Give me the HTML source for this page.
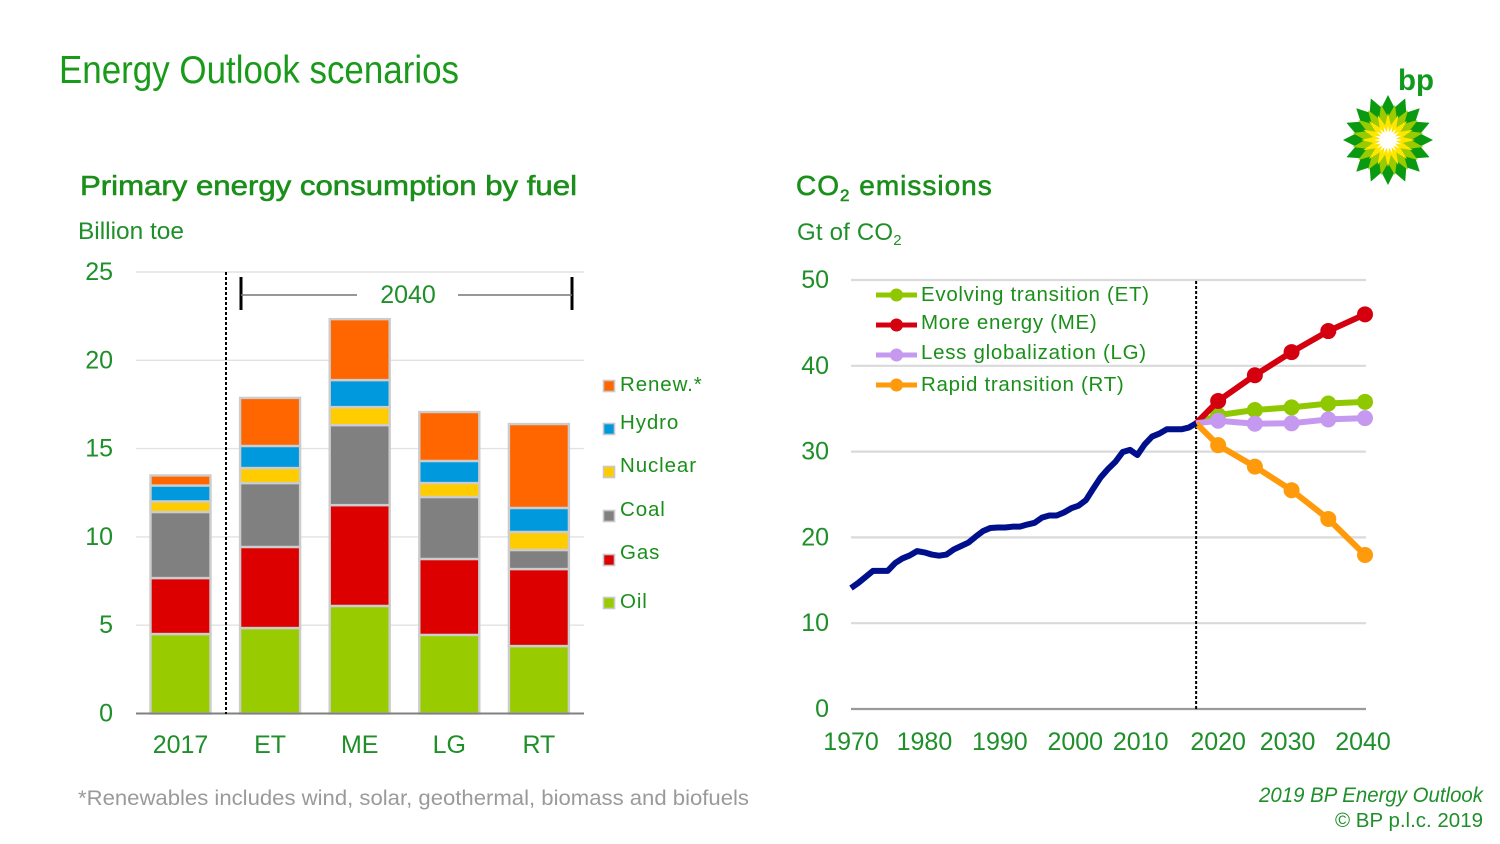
<!DOCTYPE html>
<html lang="en">
<head>
<meta charset="utf-8">
<title>Energy Outlook scenarios</title>
<style>
html,body{margin:0;padding:0;background:#fff;width:1500px;height:844px;overflow:hidden}
svg{display:block}
text{font-family:"Liberation Sans",sans-serif;fill:#1f8f2a}
</style>
</head>
<body>
<svg id="slide" width="1500" height="844" viewBox="0 0 1500 844" xmlns="http://www.w3.org/2000/svg">
  <text x="59" y="83" font-size="39" textLength="400" lengthAdjust="spacingAndGlyphs" style="fill:#1a9a1a">Energy Outlook scenarios</text>
  <text x="80" y="195" font-size="28" textLength="497" lengthAdjust="spacingAndGlyphs" style="fill:#1a8f1a;stroke:#1a8f1a;stroke-width:0.6">Primary energy consumption by fuel</text>
  <text x="78" y="239" font-size="24" textLength="106" lengthAdjust="spacingAndGlyphs">Billion toe</text>
  <text x="796" y="195" font-size="28" letter-spacing="1" style="fill:#1a8f1a;stroke:#1a8f1a;stroke-width:0.6">CO<tspan font-size="17" dy="6">2</tspan><tspan dy="-6"> emissions</tspan></text>
  <text x="797" y="240" font-size="24" letter-spacing="0.2">Gt of CO<tspan font-size="15" dy="5">2</tspan></text>
  <g id="left-chart"></g>
  <g id="right-chart"></g>
  <g id="bp-logo">
    <text x="1398" y="90" font-size="30" font-weight="bold" textLength="36" lengthAdjust="spacingAndGlyphs" style="fill:#0f9a1e">bp</text>
  </g>
  <text x="78" y="805" font-size="21.5" textLength="671" lengthAdjust="spacingAndGlyphs" style="fill:#9a9a9a">*Renewables includes wind, solar, geothermal, biomass and biofuels</text>
  <text x="1483" y="802" font-size="21" font-style="italic" text-anchor="end" textLength="224" lengthAdjust="spacingAndGlyphs">2019 BP Energy Outlook</text>
  <text x="1483" y="827" font-size="20" text-anchor="end" textLength="148" lengthAdjust="spacingAndGlyphs">© BP p.l.c. 2019</text>
</svg>
<script>
// ---------- stacked bar chart data (billion toe) ----------
const barCategories = ['2017', 'ET', 'ME', 'LG', 'RT'];
const fuelNames = ['Oil', 'Gas', 'Coal', 'Nuclear', 'Hydro', 'Renew.*'];
const oilValues = [4.5, 4.84, 6.09, 4.45, 3.82];
const gasValues = [3.17, 4.59, 5.71, 4.3, 4.36];
const coalValues = [3.74, 3.62, 4.53, 3.51, 1.08];
const nuclearValues = [0.6, 0.85, 1.02, 0.79, 1.02];
const hydroValues = [0.9, 1.25, 1.53, 1.25, 1.36];
const renewValues = [0.57, 2.72, 3.45, 2.77, 4.75];
const barTicks = [0, 5, 10, 15, 20, 25];

// ---------- line chart data (Gt of CO2) ----------
const historyYears = [1970,1971,1972,1973,1974,1975,1976,1977,1978,1979,1980,1981,1982,1983,1984,1985,1986,1987,1988,1989,1990,1991,1992,1993,1994,1995,1996,1997,1998,1999,2000,2001,2002,2003,2004,2005,2006,2007,2008,2009,2010,2011,2012,2013,2014,2015,2016,2017];
const historyValues = [14.1,14.7,15.4,16.1,16.1,16.1,17.0,17.55,17.9,18.4,18.25,18.0,17.87,18.0,18.6,19.0,19.4,20.1,20.75,21.1,21.15,21.15,21.25,21.25,21.5,21.7,22.3,22.55,22.55,22.9,23.4,23.7,24.35,25.7,27.0,27.97,28.8,29.95,30.2,29.6,30.85,31.75,32.1,32.6,32.6,32.6,32.8,33.3];
const scenarioYears = [2017, 2020, 2025, 2030, 2035, 2040];
const etValues = [33.3, 34.25, 34.85, 35.15, 35.6, 35.8];
const meValues = [33.3, 35.9, 38.9, 41.6, 44.05, 46.0];
const lgValues = [33.3, 33.6, 33.25, 33.3, 33.75, 33.9];
const rtValues = [33.3, 30.75, 28.25, 25.5, 22.15, 17.95];
const lineYTicks = [0, 10, 20, 30, 40, 50];
const lineXTicks = [1970, 1980, 1990, 2000, 2010, 2020, 2030, 2040];

const NS = 'http://www.w3.org/2000/svg';
function mk(parent, tag, attrs, txt) {
  const e = document.createElementNS(NS, tag);
  for (const k in attrs) e.setAttribute(k, attrs[k]);
  if (txt !== undefined) e.textContent = txt;
  parent.appendChild(e);
  return e;
}

// ---------- left chart ----------
(function () {
  const g = document.getElementById('left-chart');
  const yB = v => 713.5 - v * 17.66;
  const xB = i => 180.5 + i * 89.6;
  const barW = 60;
  const fuelColors = ['#99cc00', '#dd0000', '#808080', '#ffcc00', '#0099dd', '#ff6600'];
  const series = [oilValues, gasValues, coalValues, nuclearValues, hydroValues, renewValues];

  barTicks.forEach(t => {
    if (t > 0) {
      const grid = mk(g, 'line', { x1: 136, x2: 584, y1: yB(t), y2: yB(t), stroke: '#e2e2e2', 'stroke-width': 1.4 });
      
      
    }
    const lab = mk(g, 'text', { x: 113, y: yB(t) + 8, 'font-size': 25, 'text-anchor': 'end' }, String(t));
    
    
  });

  barCategories.forEach((c, i) => {
    let base = 0;
    series.forEach((vals, s) => {
      const top = base + vals[i];
      const r = mk(g, 'rect', { x: xB(i) - barW / 2, y: yB(top), width: barW, height: yB(base) - yB(top), fill: fuelColors[s], stroke: '#cccccc', 'stroke-width': 2.4 });
      
      
      base = top;
    });
    const lab = mk(g, 'text', { x: xB(i), y: 753, 'font-size': 25, 'text-anchor': 'middle' }, c);
    
    
  });

  const axis = mk(g, 'line', { x1: 136, x2: 584, y1: yB(0), y2: yB(0), stroke: '#808080', 'stroke-width': 2 });
  
  

  const dash = mk(g, 'line', { x1: 226, x2: 226, y1: 272, y2: 714, stroke: '#000', 'stroke-width': 2, 'stroke-dasharray': '3 2' });
  
  

  [[241, 241, 277, 310], [572, 572, 277, 310]].forEach((p, i) => {
    const b = mk(g, 'line', { x1: p[0], x2: p[1], y1: p[2], y2: p[3], stroke: '#000', 'stroke-width': 3 });
    
    
  });
  [[241, 357], [458, 572]].forEach((p, i) => {
    const b = mk(g, 'line', { x1: p[0], x2: p[1], y1: 295, y2: 295, stroke: '#777', 'stroke-width': 1.6 });
    
    
  });
  const br = mk(g, 'text', { x: 408, y: 303, 'font-size': 25, 'text-anchor': 'middle' }, '2040');
  
  

  // legend (top to bottom)
  const swatchY = [380, 423, 466, 510, 554, 597];
  const textY = [391, 429, 472, 516, 559, 608];
  for (let k = 0; k < 6; k++) {
    const s = 5 - k;
    const sw = mk(g, 'rect', { x: 603.5, y: swatchY[k] + 0.5, width: 11, height: 11, fill: fuelColors[s], stroke: '#c9c9c9', 'stroke-width': 1.6 });
    
    
    const t = mk(g, 'text', { x: 620, y: textY[k], 'font-size': 20.5, 'letter-spacing': 0.9, style: 'fill:#1a8f1a' }, fuelNames[s]);
    
    
  }
})();

// ---------- right chart ----------
(function () {
  const g = document.getElementById('right-chart');
  const yL = v => 709 - v * 8.58;
  const xL = yr => 851 + (yr - 1970) * 7.343;
  const tickNudge = { 1980: 0, 1990: 2, 2000: 4, 2010: -4, 2020: 0, 2030: -4, 2040: -2 };

  lineYTicks.forEach(t => {
    const grid = mk(g, 'line', { x1: 851, x2: 1366, y1: yL(t), y2: yL(t), stroke: t === 0 ? '#9a9a9a' : '#dadada', 'stroke-width': 2.2 });
    
    
    const lab = mk(g, 'text', { x: 829, y: yL(t) + 8, 'font-size': 25, 'text-anchor': 'end' }, String(t));
    
    
  });
  lineXTicks.forEach(t => {
    const lab = mk(g, 'text', { x: xL(t) + (tickNudge[t] || 0), y: 750, 'font-size': 25, 'text-anchor': 'middle' }, String(t));
    
    
  });

  const dash = mk(g, 'line', { x1: xL(2017), x2: xL(2017), y1: 281, y2: 709, stroke: '#000', 'stroke-width': 2, 'stroke-dasharray': '3 2' });
  
  

  const scenarios = [
    { key: 'et', vals: etValues, color: '#8fc800' },
    { key: 'me', vals: meValues, color: '#d40010' },
    { key: 'lg', vals: lgValues, color: '#c599f0' },
    { key: 'rt', vals: rtValues, color: '#ff9a0a' }
  ];
  scenarios.forEach(s => {
    const pts = scenarioYears.map((y, i) => xL(y) + ',' + yL(s.vals[i])).join(' ');
    const line = mk(g, 'polyline', { points: pts, fill: 'none', stroke: s.color, 'stroke-width': 6, 'stroke-linejoin': 'round' });
    
    
    scenarioYears.forEach((y, i) => {
      if (i === 0) return;
      const c = mk(g, 'circle', { cx: xL(y), cy: yL(s.vals[i]), r: 8, fill: s.color });
      
      
    });
  });

  const hist = mk(g, 'polyline', { points: historyYears.map((y, i) => xL(y) + ',' + yL(historyValues[i])).join(' '), fill: 'none', stroke: '#000f8c', 'stroke-width': 6, 'stroke-linejoin': 'round' });
  
  

  // legend
  const legendNames = ['Evolving transition (ET)', 'More energy (ME)', 'Less globalization (LG)', 'Rapid transition (RT)'];
  const legendLineY = [295, 325, 355, 385];
  const legendTextY = [301, 329, 359, 391];
  scenarios.forEach((s, i) => {
    const l = mk(g, 'line', { x1: 876, x2: 917, y1: legendLineY[i], y2: legendLineY[i], stroke: s.color, 'stroke-width': 5 });
    
    
    const c = mk(g, 'circle', { cx: 896.5, cy: legendLineY[i], r: 6.5, fill: s.color });
    
    
    const t = mk(g, 'text', { x: 921, y: legendTextY[i], 'font-size': 20.5, 'letter-spacing': 0.7, style: 'fill:#1a8f1a' }, legendNames[i]);
    
    
  });
})();

// ---------- BP helios logo ----------
(function () {
  const g = document.getElementById('bp-logo');
  const cx = 1388, cy = 140;
  function star(n, ro, ri, rot) {
    const p = [];
    for (let i = 0; i < n * 2; i++) {
      const r = i % 2 ? ri : ro;
      const a = rot + i * Math.PI / n;
      p.push((cx + r * Math.sin(a)).toFixed(1) + ',' + (cy - r * Math.cos(a)).toFixed(1));
    }
    return p.join(' ');
  }
  const layers = [
    ['logo-outer-petals', 16, 45, 33, '#0a9a12', 0],
    ['logo-middle-petals', 16, 36, 23, '#9acb00', Math.PI / 16],
    ['logo-yellow-petals', 16, 27, 15, '#ffe600', 0],
    ['logo-white-core', 20, 14, 8, '#ffffff', 0]
  ];
  layers.forEach(l => {
    const s = mk(g, 'polygon', { points: star(l[1], l[2], l[3], l[5]), fill: l[4] });
    
    
  });
})();
</script>
</body>
</html>
